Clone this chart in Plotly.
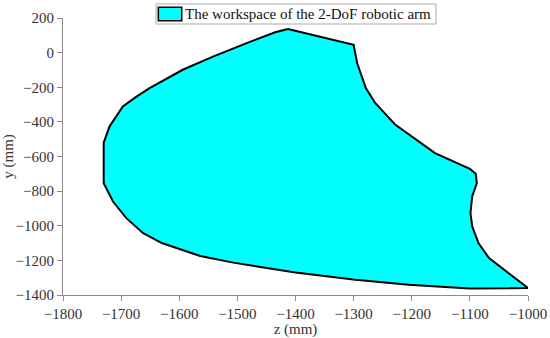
import plotly.graph_objects as go

# boundary of the workspace (z, y in mm), traced clockwise from the top
z_mm = [-1413, -1300, -1294, -1279, -1263, -1228, -1160, -1100, -1090, -1088,
        -1096, -1099, -1096, -1085, -1067, -1033, -1000, -1100, -1205, -1297,
        -1400, -1507, -1564, -1630, -1662, -1691, -1714, -1730, -1730, -1720,
        -1697, -1673, -1651, -1594, -1541, -1484, -1435, -1413]
y_mm = [136, 45, -60, -205, -291, -417, -580, -671, -700, -754,
        -831, -927, -1004, -1101, -1187, -1274, -1360, -1362, -1341, -1312,
        -1270, -1213, -1175, -1100, -1043, -956, -860, -754, -520, -427,
        -311, -253, -205, -99, -22, 55, 118, 136]
label = "The workspace of the 2-DoF robotic arm"

FONT = "Liberation Serif"
AX = "#8c8c8c"
FILL = "#00ffff"

fig = go.Figure()
fig.add_trace(go.Scatter(
    x=z_mm, y=y_mm, mode="lines", fill="toself",
    fillcolor=FILL, line=dict(color="black", width=2),
    name=label, showlegend=False
))

axis_common = dict(showline=True, linecolor=AX, linewidth=1, ticks="outside",
                   tickcolor=AX, ticklen=5, showgrid=False, zeroline=False,
                   tickfont=dict(family=FONT, size=15, color="#333"),
                   automargin=False)

fig.update_layout(
    width=550, height=338,
    margin=dict(l=63, r=22, t=18, b=43, autoexpand=False),
    paper_bgcolor="white", plot_bgcolor="white",
    font=dict(family=FONT, size=15, color="#333"),
)
fig.update_xaxes(range=[-1800, -1000], dtick=100,
                 title=dict(text="z (mm)", standoff=0, font=dict(family=FONT, size=15)),
                 **axis_common)
fig.update_yaxes(range=[-1400, 200], dtick=200,
                 title=dict(text="y (mm)", standoff=0, font=dict(family=FONT, size=15)),
                 **axis_common)

# legend box drawn by hand so it stays compact, like the matlab one
fig.add_shape(type="rect", xref="paper", yref="paper", x0=0.2, x1=0.8022,
              y0=0.9783, y1=1.0505, line=dict(color="#aaaaaa", width=1),
              fillcolor="white", layer="above")
fig.add_shape(type="rect", xref="paper", yref="paper", x0=0.205, x1=0.2553,
              y0=0.9903, y1=1.0386, line=dict(color="black", width=1.5),
              fillcolor=FILL, layer="above")
fig.add_annotation(text=label, xref="paper", yref="paper", x=0.2587, y=1.0144,
                   xanchor="left", yanchor="middle", showarrow=False,
                   font=dict(family=FONT, size=15, color="#111"))

fig.write_html("out.html", config={"displayModeBar": False},
               post_script="document.body.style.margin='0';")
